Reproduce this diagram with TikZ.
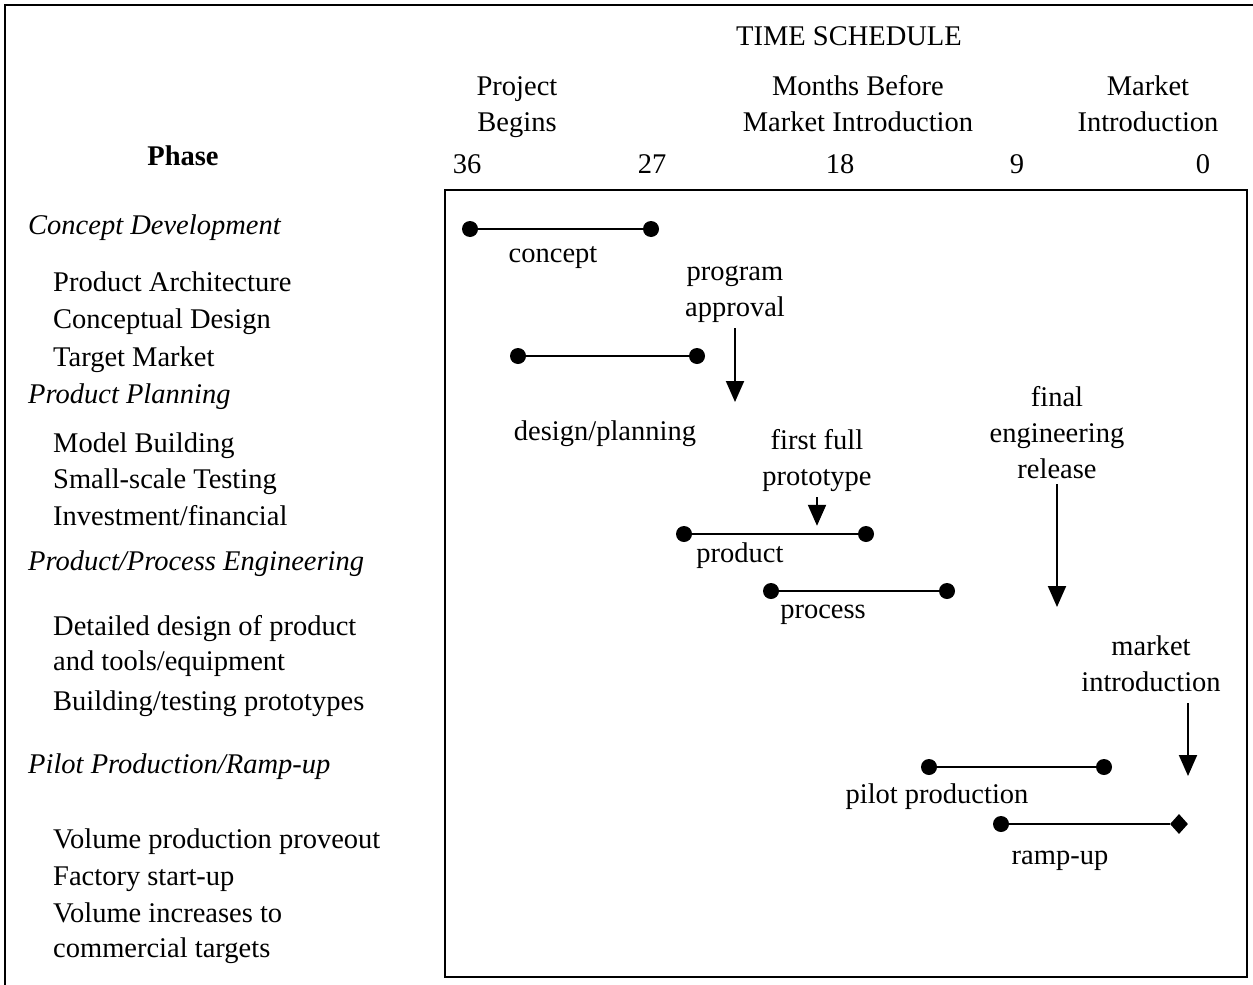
\documentclass[tikz,border=0pt]{standalone}
\usepackage{fontspec}
\setmainfont{Liberation Serif}
\usetikzlibrary{arrows.meta,shapes.geometric}
\tikzset{
  txt/.style={inner sep=0pt,align=center,font=\fontsize{28.5}{36}\selectfont},
  phasehead/.style={txt,anchor=base west,font=\fontsize{28.5}{36}\selectfont\itshape},
  task/.style={txt,anchor=base west},
  dot/.style={circle,fill,inner sep=0pt,minimum size=16pt},
  enddia/.style={diamond,fill,inner sep=0pt,minimum width=18pt,minimum height=20pt},
  bar/.style={line width=2pt},
  milestone/.style={line width=2pt,-{Triangle[width=18pt,length=21pt]}}
}
\begin{document}
\begin{tikzpicture}[x=1pt,y=-1pt]
\useasboundingbox (0,0) rectangle (1253,985);
% frames
\draw[line width=2pt] (5,985) -- (5,5) -- (1253,5);
\draw[line width=2pt] (445,190) rectangle (1247,977);
% header (multi-line nodes sit on their last baseline)
\node[txt,anchor=base] (title) at (849,45) {TIME SCHEDULE};
\node[txt,anchor=base] (begins) at (517,131) {Project\\Begins};
\node[txt,anchor=base] (before) at (858,131) {Months Before\\Market Introduction};
\node[txt,anchor=base] (intro) at (1148,131) {Market\\Introduction};
\node[txt,anchor=base,font=\fontsize{28.5}{36}\selectfont\bfseries] (phase) at (183,165) {Phase};
\foreach \x/\m in {467/36,652/27,840/18,1017/9,1203/0}
  \node[txt,anchor=base] (month\m) at (\x,173) {\m};
% phases
\node[phasehead] (concepthead) at (28,234) {Concept Development};
\node[phasehead] (planhead) at (28,403) {Product Planning};
\node[phasehead] (enghead) at (28,570) {Product/Process Engineering};
\node[phasehead] (pilothead) at (28,773) {Pilot Production/Ramp-up};
\foreach \y/\t [count=\i] in {291/Product Architecture,328/Conceptual Design,366/Target Market,
    452/Model Building,488/Small-scale Testing,525/{Investment/financial},
    635/Detailed design of product,670/{and tools/equipment},710/{Building/testing prototypes},
    848/Volume production proveout,885/Factory start-up,922/Volume increases to,957/commercial targets}
  \node[task] (task\i) at (53,\y) {\t};
% bars
\foreach \n/\a/\b/\y in {concept/470/651/229,design/518/697/356,product/684/866/534,process/771/947/591,pilot/929/1104/767}{
  \node[dot] (\n a) at (\a,\y) {};
  \node[dot] (\n b) at (\b,\y) {};
  \draw[bar] (\n a) -- (\n b);
}
\node[dot] (rampa) at (1001,824) {};
\node[enddia] (rampb) at (1179,824) {};
\draw[bar] (rampa) -- (rampb);
\node[txt,anchor=base] (conceptlbl) at (553,262) {concept};
\node[txt,anchor=base] (designlbl) at (605,440) {design/planning};
\node[txt,anchor=base] (productlbl) at (740,562) {product};
\node[txt,anchor=base] (processlbl) at (823,618) {process};
\node[txt,anchor=base] (pilotlbl) at (937,803) {pilot production};
\node[txt,anchor=base] (ramplbl) at (1060,864) {ramp-up};
% milestones
\node[txt,anchor=base] (approval) at (735,316) {program\\approval};
\node[txt,anchor=base] (proto) at (817,485) {first full\\prototype};
\node[txt,anchor=base] (release) at (1057,478) {final\\engineering\\release};
\node[txt,anchor=base] (market) at (1151,691) {market\\introduction};
\coordinate (approvaltip) at (733,402);
\coordinate (releasetip) at (1054,607);
\coordinate (markettop) at (1188,703);
\coordinate (markettip) at (1188,776);
\draw[milestone] ([yshift=-6pt]approval.south) -- (approval.south |- approvaltip);
\draw[milestone] ([yshift=-6pt]proto.south) -- (proto.south |- productb.north);
\draw[milestone] ([yshift=-6pt]release.south) -- (release.south |- releasetip);
\draw[milestone] (markettop) -- (markettip);
\end{tikzpicture}
\end{document}
